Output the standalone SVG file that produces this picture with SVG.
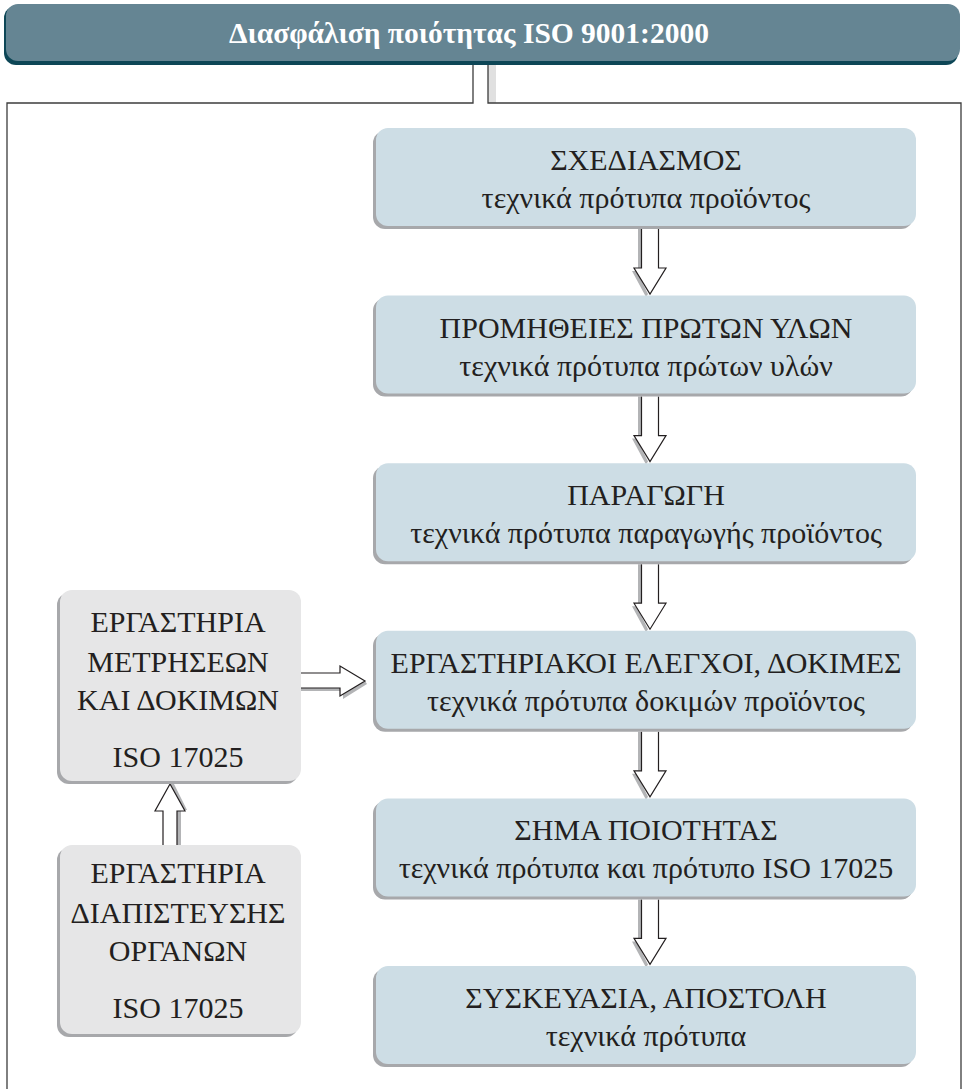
<svg xmlns="http://www.w3.org/2000/svg" width="962" height="1089" viewBox="0 0 962 1089">
<style>
.qtxt{font-family:"Liberation Serif",serif;font-size:30px;fill:#231f20;text-anchor:middle}
.qhead{font-family:"Liberation Serif",serif;font-size:29.5px;font-weight:bold;fill:#ffffff;text-anchor:middle}
.qpb{fill:#cddde5}
.qlb{fill:#e6e6e7}
.qsh{fill:#a7a8ab}
.qar{fill:#ffffff;stroke:#231f20;stroke-width:1.2;stroke-linejoin:miter}
.qas{fill:#b3b4b6}
.qfr{fill:none;stroke:#3c3c3c;stroke-width:1.3}
</style>
<rect x="0" y="0" width="962" height="1089" fill="#ffffff"/>
<g id="header">
<rect x="4" y="6" width="954" height="59" rx="12" fill="#0d4656"/>
<rect x="6" y="4" width="954" height="57" rx="12" fill="#658593"/>
<text class="qhead" x="469" y="43">Διασφάλιση ποιότητας ISO 9001:2000</text>
</g>
<g id="connectors">
<rect x="488" y="65" width="8" height="38" fill="#e0e0e0"/>
<path class="qfr" d="M7,1089 V103 H473 V65 M488,65 V103 H961 V1089"/>
<g id="arrows-down">
<path class="qas" d="M638,229 h4 v39 h-7 l13,26 -2,3 -14,-26 h6z"/>
<path class="qar" d="M641.5,229 V268 H634 L650,294 L666,268 H658.5 V229"/>
<path class="qas" transform="translate(0,167.6)" d="M638,229 h4 v39 h-7 l13,26 -2,3 -14,-26 h6z"/>
<path class="qar" transform="translate(0,167.6)" d="M641.5,229 V268 H634 L650,294 L666,268 H658.5 V229"/>
<path class="qas" transform="translate(0,335.2)" d="M638,229 h4 v39 h-7 l13,26 -2,3 -14,-26 h6z"/>
<path class="qar" transform="translate(0,335.2)" d="M641.5,229 V268 H634 L650,294 L666,268 H658.5 V229"/>
<path class="qas" transform="translate(0,502.8)" d="M638,229 h4 v39 h-7 l13,26 -2,3 -14,-26 h6z"/>
<path class="qar" transform="translate(0,502.8)" d="M641.5,229 V268 H634 L650,294 L666,268 H658.5 V229"/>
<path class="qas" transform="translate(0,670.4)" d="M638,229 h4 v39 h-7 l13,26 -2,3 -14,-26 h6z"/>
<path class="qar" transform="translate(0,670.4)" d="M641.5,229 V268 H634 L650,294 L666,268 H658.5 V229"/>
</g>
<g id="arrow-right">
<path class="qas" d="M301,688 h39 v-2 h3 v13 l24,-15 -2,-3 -25,14 v-4 h-39z"/>
<path class="qar" d="M301,673 H340 V666 L365,681 L340,696 V688 H301"/>
</g>
<g id="arrow-up">
<path class="qas" d="M177,845 V811 h6 l-13,-27 3,-2 14,28 h-6 v35z"/>
<path class="qar" d="M163,845 V811 H155 L170,784 L185,811 H177 V845"/>
</g>
</g>
<g id="box1">
<rect class="qsh" x="373" y="131" width="540" height="98" rx="12"/>
<rect class="qpb" x="376" y="128" width="540" height="98" rx="12"/>
<text class="qtxt" x="646" y="170">ΣΧΕΔΙΑΣΜΟΣ</text>
<text class="qtxt" x="646" y="208">τεχνικά πρότυπα προϊόντος</text>
</g>
<g id="box2">
<rect class="qsh" x="373" y="298.6" width="540" height="98" rx="12"/>
<rect class="qpb" x="376" y="295.6" width="540" height="98" rx="12"/>
<text class="qtxt" x="646" y="337.6">ΠΡΟΜΗΘΕΙΕΣ ΠΡΩΤΩΝ ΥΛΩΝ</text>
<text class="qtxt" x="646" y="375.6">τεχνικά πρότυπα πρώτων υλών</text>
</g>
<g id="box3">
<rect class="qsh" x="373" y="466.2" width="540" height="98" rx="12"/>
<rect class="qpb" x="376" y="463.2" width="540" height="98" rx="12"/>
<text class="qtxt" x="646" y="505.2">ΠΑΡΑΓΩΓΗ</text>
<text class="qtxt" x="646" y="543.2">τεχνικά πρότυπα παραγωγής προϊόντος</text>
</g>
<g id="box4">
<rect class="qsh" x="373" y="633.8" width="540" height="98" rx="12"/>
<rect class="qpb" x="376" y="630.8" width="540" height="98" rx="12"/>
<text class="qtxt" x="646" y="672.8">ΕΡΓΑΣΤΗΡΙΑΚΟΙ ΕΛΕΓΧΟΙ, ΔΟΚΙΜΕΣ</text>
<text class="qtxt" x="646" y="710.8">τεχνικά πρότυπα δοκιμών προϊόντος</text>
</g>
<g id="box5">
<rect class="qsh" x="373" y="801.4" width="540" height="98" rx="12"/>
<rect class="qpb" x="376" y="798.4" width="540" height="98" rx="12"/>
<text class="qtxt" x="646" y="840.4">ΣΗΜΑ ΠΟΙΟΤΗΤΑΣ</text>
<text class="qtxt" x="646" y="878.4">τεχνικά πρότυπα και πρότυπο ISO 17025</text>
</g>
<g id="box6">
<rect class="qsh" x="373" y="969" width="540" height="98" rx="12"/>
<rect class="qpb" x="376" y="966" width="540" height="98" rx="12"/>
<text class="qtxt" x="646" y="1008">ΣΥΣΚΕΥΑΣΙΑ, ΑΠΟΣΤΟΛΗ</text>
<text class="qtxt" x="646" y="1046">τεχνικά πρότυπα</text>
</g>
<g id="labA">
<rect class="qsh" x="57" y="593" width="241" height="191" rx="12"/>
<rect class="qlb" x="60" y="590" width="241" height="191" rx="12"/>
<text class="qtxt" x="178" y="632">ΕΡΓΑΣΤΗΡΙΑ</text>
<text class="qtxt" x="178" y="672">ΜΕΤΡΗΣΕΩΝ</text>
<text class="qtxt" x="178" y="710">ΚΑΙ ΔΟΚΙΜΩΝ</text>
<text class="qtxt" x="178" y="767">ISO 17025</text>
</g>
<g id="labB">
<rect class="qsh" x="57" y="848" width="241" height="189" rx="12"/>
<rect class="qlb" x="60" y="845" width="241" height="189" rx="12"/>
<text class="qtxt" x="178" y="883">ΕΡΓΑΣΤΗΡΙΑ</text>
<text class="qtxt" x="178" y="923">ΔΙΑΠΙΣΤΕΥΣΗΣ</text>
<text class="qtxt" x="178" y="961">ΟΡΓΑΝΩΝ</text>
<text class="qtxt" x="178" y="1018">ISO 17025</text>
</g>
</svg>
